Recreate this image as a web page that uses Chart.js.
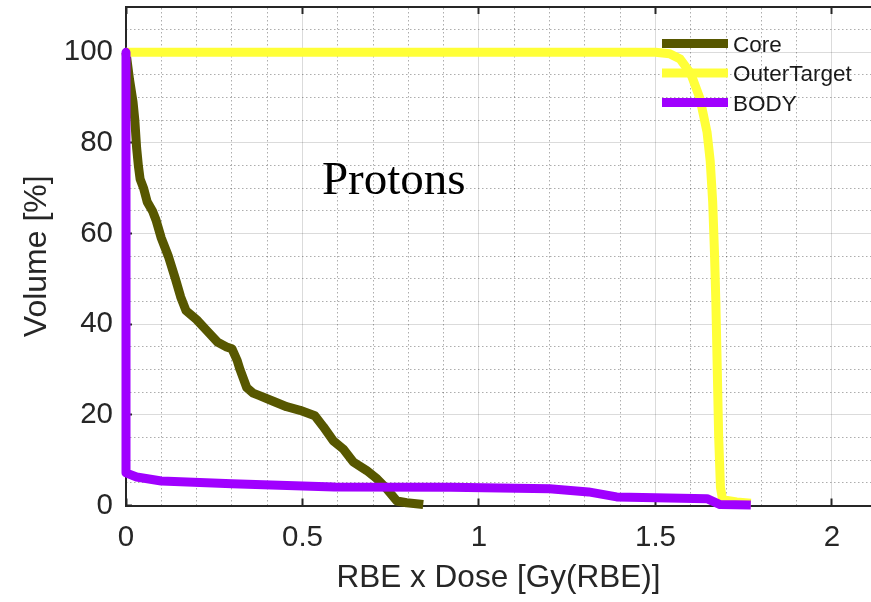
<!DOCTYPE html>
<html>
<head>
<meta charset="utf-8">
<script src="https://cdn.jsdelivr.net/npm/chart.js@4.4.1/dist/chart.umd.min.js"></script>
<style>
  html, body { margin: 0; padding: 0; background: #fff; }
</style>
</head>
<body>
<canvas id="dvhChart" width="871" height="602"></canvas>
<script>
// DVH curves: dose in Gy(RBE), volume in %
const seriesNames = ['Core', 'OuterTarget', 'BODY'];
const seriesColors = ['#575700', '#ffff38', '#a000ff'];

const coreDose = [0, 0.005, 0.01, 0.02, 0.025, 0.03, 0.035, 0.04, 0.05, 0.06, 0.075, 0.085, 0.1, 0.12, 0.14, 0.155, 0.17, 0.185, 0.2, 0.23, 0.26, 0.285, 0.3, 0.315, 0.323, 0.342, 0.36, 0.38, 0.417, 0.455, 0.493, 0.535, 0.559, 0.587, 0.615, 0.644, 0.682, 0.711, 0.738, 0.767, 0.795, 0.842];
const coreVolume = [100, 97, 94, 89, 85, 79, 75, 72, 70, 67, 65, 63, 59, 55, 50, 46, 43, 42, 41, 38.5, 36, 35, 34.6, 32, 30, 26, 24.8, 24.2, 23, 21.8, 21, 19.8, 17.4, 14.3, 12.5, 9.6, 7.7, 5.9, 3.7, 1, 0.6, 0.2];

const outerDose = [0, 1.5, 1.54, 1.57, 1.6, 1.626, 1.646, 1.655, 1.662, 1.667, 1.671, 1.675, 1.679, 1.684, 1.69, 1.73, 1.77];
const outerVolume = [100, 100, 99.7, 98.5, 95.3, 89.8, 82.4, 76, 67, 56, 45, 30, 15, 4, 1.3, 0.8, 0.5];

const bodyDose = [0, 0, 0.03, 0.1, 0.3, 0.59, 0.92, 1.2, 1.31, 1.39, 1.5, 1.646, 1.683, 1.77];
const bodyVolume = [100, 7.2, 6.3, 5.4, 4.8, 4.1, 4, 3.7, 3, 1.9, 1.7, 1.5, 0.2, 0.1];

const xTicks = [0, 0.5, 1, 1.5, 2];
const yTicks = [0, 20, 40, 60, 80, 100];
const xMax = 2.1105, yMax = 110;
const annotationText = 'Protons';

const toPoints = (xs, ys) => xs.map((x, i) => ({ x: x, y: ys[i] }));
const tickFont = { family: 'Liberation Sans', size: 29.5 };
const axisInk = '#262626';
const isOn = (v, step) => Math.abs(v / step - Math.round(v / step)) < 1e-6;
const noPad = s => { s.paddingTop = 0; s.paddingBottom = 0; s.paddingLeft = 0; s.paddingRight = 0; };

// text label + legend drawn over the curves, MATLAB style
const overlay = {
  id: 'overlay',
  afterDatasetsDraw(chart) {
    const { ctx, scales: { x, y } } = chart;
    ctx.save();
    ctx.fillStyle = '#000';
    ctx.font = '47px "Liberation Serif"';
    ctx.textBaseline = 'alphabetic';
    ctx.fillText(annotationText, x.getPixelForValue(0.555), y.getPixelForValue(68.8));

    ctx.font = '22.5px "Liberation Sans"';
    chart.data.datasets.forEach((ds, i) => {
      const ly = 43.5 + i * 29.5;
      ctx.strokeStyle = ds.borderColor;
      ctx.lineWidth = 9;
      ctx.beginPath();
      ctx.moveTo(662, ly);
      ctx.lineTo(728, ly);
      ctx.stroke();
      ctx.fillStyle = '#1a1a1a';
      ctx.fillText(ds.label, 733, ly + 8);
    });
    ctx.restore();
  }
};

const volumes = [coreVolume, outerVolume, bodyVolume];
const doses = [coreDose, outerDose, bodyDose];

new Chart(document.getElementById('dvhChart'), {
  type: 'line',
  data: {
    datasets: seriesNames.map((name, i) => ({
      label: name,
      data: toPoints(doses[i], volumes[i]),
      borderColor: seriesColors[i],
      backgroundColor: seriesColors[i],
      borderWidth: 9,
      pointRadius: 0,
      tension: 0,
      borderJoinStyle: 'round',
      clip: false,
      order: 3 - i
    }))
  },
  options: {
    responsive: false,
    animation: false,
    layout: { padding: { top: 7, left: 0, right: 0, bottom: 0 } },
    plugins: { legend: { display: false }, tooltip: { enabled: false } },
    scales: {
      x: {
        type: 'linear', min: 0, max: xMax, position: 'bottom',
        afterFit: s => { s.height = 96.5; noPad(s); },
        afterBuildTicks: s => { s.ticks = xTicks.map(v => ({ value: v })); },
        ticks: { font: tickFont, color: axisInk, padding: 22, maxRotation: 0, autoSkip: false,
                 callback: v => String(+v.toFixed(2)) },
        grid: { color: 'rgba(0,0,0,0.14)', lineWidth: 1, drawTicks: true, tickLength: -7,
                tickColor: axisInk, tickWidth: 2 },
        border: { color: axisInk, width: 2 },
        title: { display: true, text: 'RBE x Dose [Gy(RBE)]', color: axisInk,
                 font: { family: 'Liberation Sans', size: 31.5 }, padding: { top: 5, bottom: 5 } }
      },
      xMinor: {
        type: 'linear', min: 0, max: xMax, position: 'top',
        afterFit: s => { s.height = 0; noPad(s); },
        ticks: { display: false, stepSize: 0.1 },
        grid: { drawTicks: true, tickLength: -7, lineWidth: 1, tickWidth: 2,
                tickColor: c => isOn(c.tick.value, 0.5) ? axisInk : 'rgba(0,0,0,0)',
                color: c => isOn(c.tick.value, 0.5) ? 'rgba(0,0,0,0)' : 'rgba(0,0,0,0.32)' },
        border: { display: true, color: axisInk, width: 2, dash: [1.5, 2.5] }
      },
      y: {
        type: 'linear', min: 0, max: yMax, position: 'left',
        afterFit: s => { s.width = 126; noPad(s); },
        afterBuildTicks: s => { s.ticks = yTicks.map(v => ({ value: v })); },
        ticks: { font: tickFont, color: axisInk, padding: 19 },
        grid: { color: 'rgba(0,0,0,0.14)', lineWidth: 1, drawTicks: true, tickLength: -6,
                tickColor: axisInk, tickWidth: 2 },
        border: { color: axisInk, width: 2 },
        title: { display: true, text: 'Volume [%]', color: axisInk,
                 font: { family: 'Liberation Sans', size: 32 }, padding: { top: 18, bottom: 18 } }
      },
      yMinor: {
        type: 'linear', min: 0, max: yMax, position: 'right',
        afterFit: s => { s.width = 0; noPad(s); },
        ticks: { display: false, stepSize: 5 },
        grid: { drawTicks: false, lineWidth: 1,
                color: c => isOn(c.tick.value, 20) ? 'rgba(0,0,0,0)' : 'rgba(0,0,0,0.32)' },
        border: { display: false, dash: [1.5, 2.5] }
      }
    }
  },
  plugins: [overlay]
});
</script>
</body>
</html>
